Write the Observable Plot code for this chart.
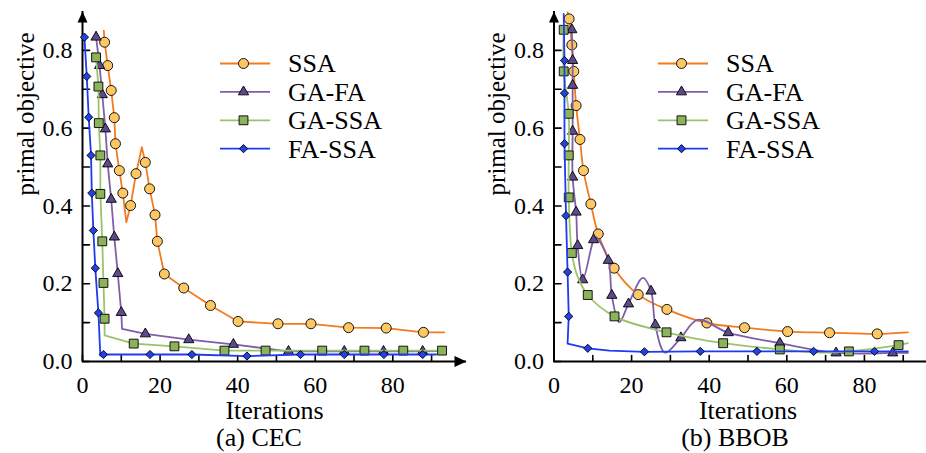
<!DOCTYPE html>
<html><head><meta charset="utf-8">
<script src="https://cdn.jsdelivr.net/npm/d3@7"></script>
<script src="https://cdn.jsdelivr.net/npm/@observablehq/plot@0.6"></script>
<style>
body{margin:0;background:#fff;font-family:"Liberation Serif","DejaVu Serif",serif;}
#wrap{position:relative;width:926px;height:453px;overflow:hidden;background:#fff;}
.panel{position:absolute;top:0;}
.cap{position:absolute;top:423px;height:30px;line-height:30px;font-size:26px;white-space:nowrap;transform:translateX(-50%);color:#000;font-family:"Liberation Serif","DejaVu Serif",serif;}
.legend{position:absolute;top:45px;}
svg text{font-family:"Liberation Serif","DejaVu Serif",serif;}
</style></head>
<body>
<div id="wrap">
  <div id="left" class="panel" style="left:0;width:470px"></div>
  <div id="right" class="panel" style="left:470px;width:456px"></div>
  <div class="cap" style="left:259px">(a) CEC</div>
  <div class="cap" style="left:735px">(b) BBOB</div>
</div>
<script>
// ---------- data ----------
const seriesNames = ["SSA", "GA-FA", "GA-SSA", "FA-SSA"];
const lineColors = ["#F27B1F", "#7D60A8", "#9BC36B", "#1E3BF0"];
const markerFills = ["#FDC763", "#5D4A8C", "#8CB35A", "#2142E8"];
const markerSymbols = ["circle", "triangle", "square", "diamond2"];
const markerRadii = [5, 3.8, 5, 3.7];

const xTicks = [0, 10, 20, 30, 40, 50, 60, 70, 80, 90];
const xTickLabels = [0, 20, 40, 60, 80];
const yTicks = [0, 0.1, 0.2, 0.3, 0.4, 0.5, 0.6, 0.7, 0.8];
const yTickLabels = [0, 0.2, 0.4, 0.6, 0.8];
const xLabel = "Iterations";
const yLabel = "primal objective";

// (a) CEC
const cecSSALine = [[5.5,0.851],[5.7,0.821],[6.5,0.761],[7.4,0.697],[8.2,0.627],[8.5,0.560],[9.5,0.491],[10.4,0.433],[11.3,0.358],[12.4,0.401],[13.8,0.483],[15.3,0.551],[16.2,0.512],[17.3,0.444],[18.7,0.377],[19.3,0.309],[21.1,0.225],[26.1,0.189],[33.0,0.144],[40.1,0.103],[50.4,0.097],[58.9,0.097],[68.6,0.087],[78.3,0.086],[87.9,0.075],[93.3,0.075]];
const cecSSAMarks = [[5.7,0.821],[6.5,0.761],[7.4,0.697],[8.2,0.627],[8.5,0.560],[9.5,0.491],[10.4,0.433],[12.4,0.401],[13.8,0.483],[16.2,0.512],[17.3,0.444],[18.7,0.377],[19.3,0.309],[21.1,0.225],[26.1,0.189],[33.0,0.144],[40.1,0.103],[50.4,0.097],[58.9,0.097],[68.6,0.087],[78.3,0.086],[87.9,0.075]];
const cecGAFALine = [[3.5,0.847],[3.5,0.834],[4.4,0.761],[5.1,0.686],[5.9,0.598],[6.5,0.508],[7.4,0.417],[8.2,0.320],[9.1,0.226],[10.0,0.126],[10.2,0.084],[16.2,0.071],[27.4,0.056],[38.9,0.044],[53.1,0.026],[67.5,0.026],[77.6,0.026],[87.7,0.026],[91.2,0.027]];
const cecGAFAMarks = [[3.5,0.834],[4.4,0.761],[5.1,0.686],[5.9,0.598],[6.5,0.508],[7.4,0.417],[8.2,0.320],[9.1,0.226],[10.0,0.126],[16.2,0.071],[27.4,0.056],[38.9,0.044],[53.1,0.026],[67.5,0.026],[77.6,0.026],[87.7,0.026]];
const cecGASSALine = [[3.5,0.782],[4.1,0.707],[4.2,0.613],[4.6,0.530],[4.6,0.431],[5.1,0.309],[5.4,0.202],[5.7,0.110],[5.7,0.067],[13.2,0.046],[23.7,0.039],[36.6,0.028],[47.2,0.028],[61.8,0.028],[72.7,0.028],[82.7,0.028],[92.7,0.028]];
const cecGASSAMarks = [[3.5,0.782],[4.1,0.707],[4.2,0.613],[4.6,0.530],[4.6,0.431],[5.1,0.309],[5.4,0.202],[5.7,0.110],[13.2,0.046],[23.7,0.039],[36.6,0.028],[47.2,0.028],[61.8,0.028],[72.7,0.028],[82.7,0.028],[92.7,0.028]];
const cecFASSALine = [[0.5,0.834],[1.1,0.733],[1.6,0.628],[2.2,0.530],[2.4,0.433],[2.8,0.337],[3.3,0.240],[4.1,0.125],[4.6,0.015],[5.4,0.018],[17.4,0.018],[28.2,0.018],[42.4,0.014],[56.2,0.018],[67.5,0.018],[77.7,0.018],[87.7,0.018],[91.2,0.018]];
const cecFASSAMarks = [[0.5,0.834],[1.1,0.733],[1.6,0.628],[2.2,0.530],[2.4,0.433],[2.8,0.337],[3.3,0.240],[4.1,0.125],[5.4,0.018],[17.4,0.018],[28.2,0.018],[42.4,0.014],[56.2,0.018],[67.5,0.018],[77.7,0.018],[87.7,0.018]];

// (b) BBOB
const bbobSSALine = [[3.5,0.898],[3.9,0.881],[4.6,0.814],[5.1,0.746],[5.7,0.658],[6.7,0.571],[7.6,0.491],[9.5,0.405],[11.4,0.328],[15.5,0.240],[21.7,0.172],[29.1,0.134],[39.4,0.099],[49.1,0.087],[60.2,0.077],[71.0,0.074],[83.3,0.071],[91.2,0.075]];
const bbobSSAMarks = [[3.9,0.881],[4.6,0.814],[5.1,0.746],[5.7,0.658],[6.7,0.571],[7.6,0.491],[9.5,0.405],[11.4,0.328],[15.5,0.240],[21.7,0.172],[29.1,0.134],[39.4,0.099],[49.1,0.087],[60.2,0.077],[71.0,0.074],[83.3,0.071]];
const bbobGAFALine = [[4.6,0.864],[4.6,0.853],[4.8,0.774],[4.8,0.710],[4.8,0.592],[4.8,0.474],[5.7,0.384],[6.1,0.298],[7.4,0.210],[10.2,0.313],[10.8,0.320],[14.0,0.260],[14.9,0.170],[16.8,0.101],[19.2,0.148],[22.9,0.215],[25.0,0.181],[26.1,0.094],[28.6,0.023],[32.7,0.061],[37.0,0.107],[44.9,0.074],[58.2,0.047],[72.7,0.022],[87.3,0.022],[91.2,0.022]];
const bbobGAFAMarks = [[4.6,0.853],[4.8,0.774],[4.8,0.710],[4.8,0.592],[4.8,0.474],[5.7,0.384],[6.1,0.298],[7.4,0.210],[10.2,0.313],[14.0,0.260],[14.9,0.170],[19.2,0.148],[25.0,0.181],[26.1,0.094],[32.7,0.061],[44.9,0.074],[58.2,0.047],[72.7,0.022],[87.3,0.022]];
const bbobGASSALine = [[2.5,0.853],[2.5,0.746],[3.8,0.637],[3.8,0.530],[3.8,0.422],[4.6,0.279],[6.0,0.221],[8.7,0.171],[15.6,0.116],[29.0,0.075],[43.6,0.047],[58.2,0.031],[68.8,0.023],[76.0,0.026],[88.8,0.042],[91.2,0.047]];
const bbobGASSAMarks = [[2.5,0.853],[2.5,0.746],[3.8,0.637],[3.8,0.530],[3.8,0.422],[4.6,0.279],[8.7,0.171],[15.6,0.116],[29.0,0.075],[43.6,0.047],[58.2,0.031],[76.0,0.026],[88.8,0.042]];
const bbobFASSALine = [[2.5,0.894],[2.7,0.774],[2.7,0.690],[2.7,0.560],[3.1,0.375],[3.5,0.230],[3.8,0.116],[3.5,0.046],[8.7,0.034],[14.3,0.028],[23.3,0.025],[37.7,0.026],[52.3,0.026],[66.9,0.026],[82.6,0.026],[91.2,0.026]];
const bbobFASSAMarks = [[2.7,0.774],[2.7,0.690],[2.7,0.560],[3.1,0.375],[3.5,0.230],[3.8,0.116],[8.7,0.034],[23.3,0.025],[37.7,0.026],[52.3,0.026],[66.9,0.026],[82.6,0.026]];

// ---------- drawing ----------
const FONT = "'Liberation Serif','DejaVu Serif',serif";
const tickShape = {draw(ctx, l) { ctx.moveTo(0, 0); ctx.lineTo(0, -l); }};
const arrowUp = {draw(ctx) { ctx.moveTo(0, 0); ctx.lineTo(-5, 11); ctx.lineTo(5, 11); ctx.closePath(); }};
const arrowRight = {draw(ctx) { ctx.moveTo(0, 0); ctx.lineTo(-12, -5.5); ctx.lineTo(-12, 5.5); ctx.closePath(); }};
const yDomain = [0, 0.9];

function makePanel({width, marginLeft, marginRight, xDomain, lines, marks, curves, arrowX, xLabelAt}) {
  const m = [
    Plot.ruleY([0], {stroke: "black", strokeWidth: 2}),
    Plot.ruleX([0], {stroke: "black", strokeWidth: 2}),
    Plot.vector(xTicks, {x: d => d, y: 0, length: 6, shape: tickShape, anchor: "start", stroke: "black", strokeWidth: 1.6}),
    Plot.vector(yTicks, {x: 0, y: d => d, length: 7, rotate: 90, shape: tickShape, anchor: "start", stroke: "black", strokeWidth: 1.6}),
    Plot.axisX(xTickLabels, {tickSize: 0, tickPadding: 14, label: null, fontSize: 24, fontFamily: FONT}),
    Plot.axisY(yTickLabels, {tickSize: 0, tickPadding: 10, label: null, fontSize: 24, fontFamily: FONT}),
    Plot.dot([yDomain[1]], {x: 0, y: d => d, symbol: arrowUp, r: 5, fill: "black", stroke: "none"}),
    Plot.text([xLabel], {x: xLabelAt, frameAnchor: "bottom", lineAnchor: "middle", dy: 49, fontSize: 26, fontFamily: FONT}),
    Plot.text([yLabel], {y: 0.427, frameAnchor: "left", lineAnchor: "middle", dx: -57, rotate: -90, fontSize: 25, fontFamily: FONT})
  ];
  if (arrowX) m.push(Plot.dot([xDomain[1]], {x: d => d, y: 0, symbol: arrowRight, r: 5, fill: "black", stroke: "none"}));
  lines.forEach((ln, i) => {
    m.push(Plot.line(ln, {x: d => d[0], y: d => d[1], stroke: lineColors[i], strokeWidth: 1.8, curve: curves[i]}));
    m.push(Plot.dot(marks[i], {x: d => d[0], y: d => d[1], symbol: markerSymbols[i], r: markerRadii[i], fill: markerFills[i], stroke: "black", strokeWidth: 0.9}));
  });
  return Plot.plot({
    width, height: 434,
    marginLeft, marginRight, marginTop: 11, marginBottom: 73,
    x: {domain: xDomain},
    y: {domain: yDomain},
    style: {fontFamily: FONT, fontSize: "24px", background: "transparent", color: "black"},
    marks: m
  });
}

document.getElementById("left").appendChild(makePanel({
  width: 470, marginLeft: 82, marginRight: 4, xDomain: [0, 99],
  lines: [cecSSALine, cecGAFALine, cecGASSALine, cecFASSALine],
  marks: [cecSSAMarks, cecGAFAMarks, cecGASSAMarks, cecFASSAMarks],
  curves: ["linear", "linear", "linear", "linear"], arrowX: true, xLabelAt: 49.5
}));
document.getElementById("right").appendChild(makePanel({
  width: 456, marginLeft: 83.5, marginRight: 0, xDomain: [0, 96.0],
  lines: [bbobSSALine, bbobGAFALine, bbobGASSALine, bbobFASSALine],
  marks: [bbobSSAMarks, bbobGAFAMarks, bbobGASSAMarks, bbobFASSAMarks],
  curves: ["catmull-rom", "catmull-rom", "catmull-rom", "linear"], arrowX: false, xLabelAt: 50
}));

// ---------- legends ----------
function addLegend(left) {
  const svg = d3.select("#wrap").append("svg").attr("class", "legend")
    .style("left", left + "px").attr("width", 210).attr("height", 120);
  const symMap = {circle: d3.symbolCircle, triangle: d3.symbolTriangle, square: d3.symbolSquare, diamond2: d3.symbolDiamond2};
  seriesNames.forEach((name, i) => {
    const y = 18.5 + i * 28.4;
    const g = svg.append("g");
    g.append("line").attr("x1", 5).attr("x2", 55).attr("y1", y).attr("y2", y)
      .attr("stroke", lineColors[i]).attr("stroke-width", 1.8);
    g.append("path").attr("transform", `translate(28.5,${y})`)
      .attr("d", d3.symbol(symMap[markerSymbols[i]], Math.PI * markerRadii[i] ** 2)())
      .attr("fill", markerFills[i]).attr("stroke", "black").attr("stroke-width", 0.9);
    g.append("text").attr("x", 73).attr("y", y).attr("dy", "0.34em")
      .style("font-family", FONT).attr("font-size", 26)
      .text(name);
  });
}
addLegend(215);
addLegend(653);
</script>
</body></html>
